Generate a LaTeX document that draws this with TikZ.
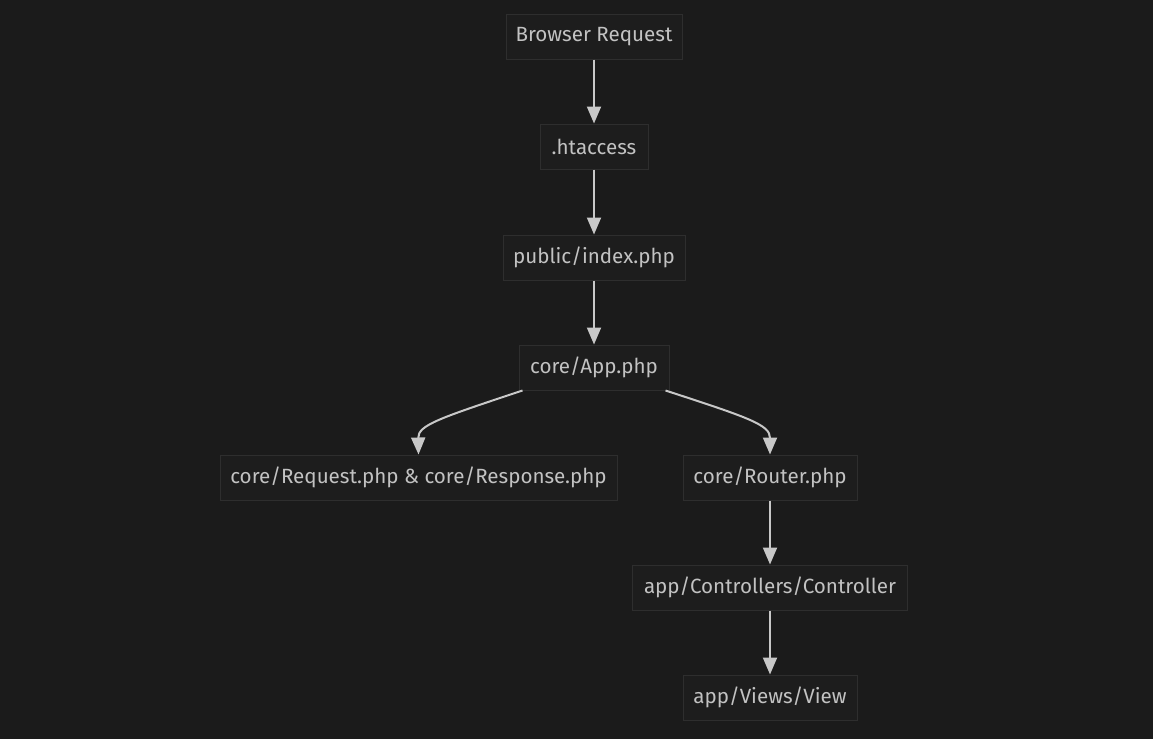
\documentclass[tikz,border=0pt]{standalone}
\usepackage{fontspec}
\setmainfont{Fira Sans}
\usetikzlibrary{arrows.meta}
\definecolor{bgc}{HTML}{1B1B1B}
\definecolor{nodefill}{HTML}{1D1D1D}
\definecolor{nodeline}{HTML}{2E2E2E}
\definecolor{txt}{HTML}{C2C2C2}
\definecolor{edge}{HTML}{C8C8C8}
\begin{document}
\begin{tikzpicture}[x=1pt,y=-1pt,
  box/.style={draw=nodeline, line width=1pt, fill=nodefill, text=txt, font=\fontsize{20.6}{24}\selectfont, minimum height=45pt, inner sep=0pt, anchor=center},
  link/.style={draw=edge, line width=2pt, -{Triangle[width=14pt,length=17pt]}}]
\fill[bgc] (0,0) rectangle (1153,739);
\useasboundingbox (0,0) rectangle (1153,739);
\node[box, minimum width=176pt] (br) at (594,36.5) {Browser Request};
\node[box, minimum width=108pt] (ht) at (594,146.5) {.htaccess};
\node[box, minimum width=182pt] (ix) at (594,257.5) {public/index.php};
\node[box, minimum width=150pt] (app) at (594,367.5) {core/App.php};
\node[box, minimum width=397pt] (rq) at (418.5,477.5) {core/Request.php \& core/Response.php};
\node[box, minimum width=174pt] (rt) at (770,477.5) {core/Router.php};
\node[box, minimum width=275pt] (ct) at (770,587.5) {app/Controllers/Controller};
\node[box, minimum width=174pt] (vw) at (770,697.5) {app/Views/View};
\draw[link] (br) -- (ht);
\draw[link] (ht) -- (ix);
\draw[link] (ix) -- (app);
\draw[link] ([xshift=4pt]app.south west) .. controls (440,418) and (418,425) .. (rq.north);
\draw[link] ([xshift=-4pt]app.south east) .. controls (750,418) and (770,425) .. (rt.north);
\draw[link] (rt) -- (ct);
\draw[link] (ct) -- (vw);
\end{tikzpicture}
\end{document}
